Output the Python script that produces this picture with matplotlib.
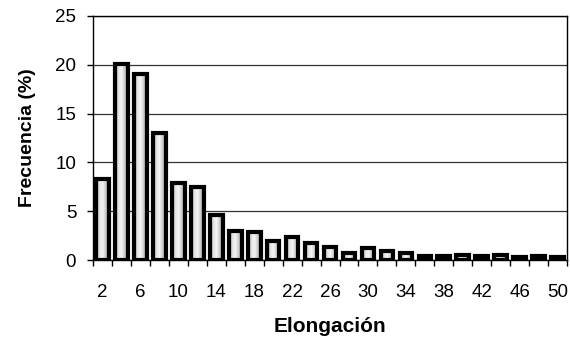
import numpy as np
from matplotlib import pyplot as plt
from matplotlib.colors import LinearSegmentedColormap

plt.rcParams["font.family"] = ["Liberation Sans", "DejaVu Sans"]

# elongation classes (2, 4, ..., 50) and frequency in percent
elongacion = list(range(2, 52, 2))
frecuencia = [8.3, 20.1, 19.0, 13.0, 7.9, 7.5, 4.6, 3.0, 2.85, 2.0,
              2.4, 1.8, 1.35, 0.77, 1.2, 0.9, 0.7, 0.43, 0.43, 0.55,
              0.43, 0.55, 0.3, 0.4, 0.3]
yticks = [0, 5, 10, 15, 20, 25]

fig = plt.figure(figsize=(5.7, 3.45), dpi=100)
ax = fig.add_axes([0.163, 0.246, 0.832, 0.708])

x = np.arange(len(elongacion))
width = 0.67
bars = ax.bar(x, frecuencia, width, facecolor="none", edgecolor="black",
              linewidth=3.0, zorder=3)

# horizontal grey shading inside each bar
cmap = LinearSegmentedColormap.from_list(
    "shade", ["#8e8e8e", "#e2e2e2", "#f6f6f6", "#cccccc", "#8e8e8e"])
grad = np.linspace(0, 1, 64).reshape(1, -1)
for xi, v, b in zip(x, frecuencia, bars):
    im = ax.imshow(grad, extent=[xi - width / 2, xi + width / 2, 0, v],
                   aspect="auto", cmap=cmap, zorder=2.5, interpolation="bilinear")
    im.set_clip_path(b)

ax.set_xlim(-0.5, len(x) - 0.5)
ax.set_ylim(0, 25)
ax.set_aspect("auto")

ax.set_yticks(yticks)
ax.tick_params(axis="y", direction="out", length=4, width=1, labelsize=13.5, pad=8)
ax.yaxis.grid(True, color="#333333", linewidth=0.9, zorder=1)
ax.set_axisbelow(True)

# tick marks between categories, labels on every other category
ax.set_xticks(np.arange(-0.5, len(x), 1.0))
ax.set_xticklabels([])
ax.tick_params(axis="x", which="major", direction="out", length=4, width=1)
ax.set_xticks(x[::2], minor=True)
ax.set_xticklabels([str(e) for e in elongacion[::2]], minor=True)
ax.tick_params(axis="x", which="minor", length=0, labelsize=13.5, pad=17)

for s in ax.spines.values():
    s.set_linewidth(1.0)
    s.set_color("black")

ax.set_xlabel("Elongación", fontsize=15, fontweight="bold", labelpad=12)
ax.set_ylabel("Frecuencia (%)", fontsize=14, fontweight="bold", labelpad=14)

fig.savefig("out.png", dpi=100)
